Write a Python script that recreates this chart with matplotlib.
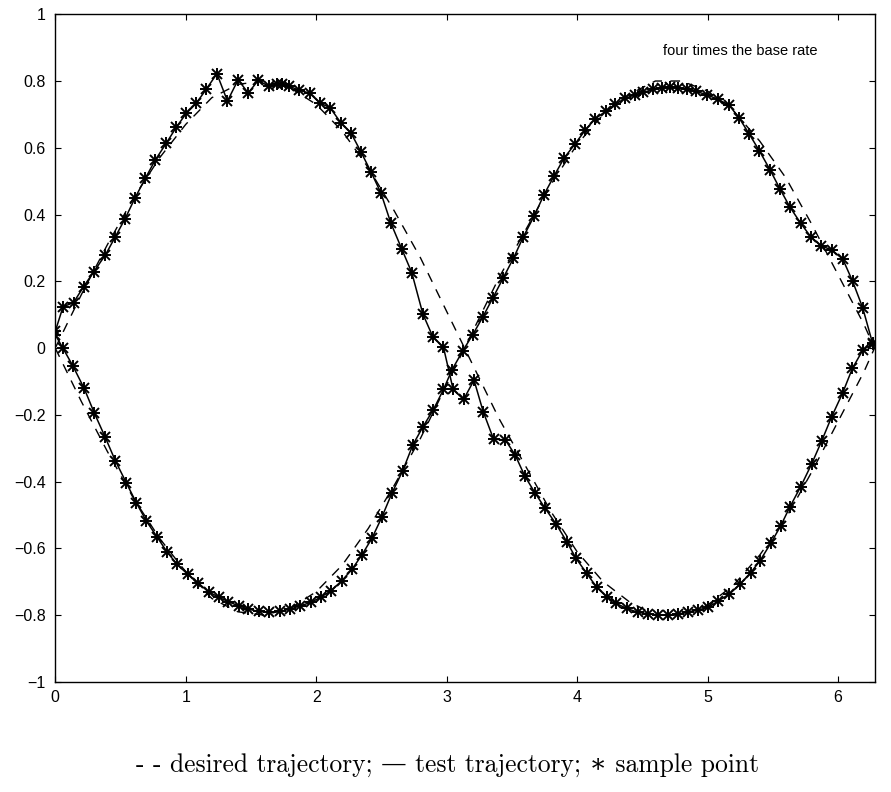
"""
    Trajectory tracking, four times the base rate
"""

import matplotlib
matplotlib.use('Agg')
import matplotlib.pyplot as plt

# desired trajectory (dashed)
x_des = [0.0, 0.2, 0.4, 0.6, 0.8, 1.0, 1.2, 1.4, 1.6, 1.8, 2.0, 2.2, 2.4, 2.6, 2.8, 3.0,
         3.2, 3.4, 3.6, 3.8, 4.0, 4.2, 4.4, 4.6, 4.8, 5.0, 5.2, 5.4, 5.6, 5.8, 6.0, 6.2, 6.28]
des_a = [0.0, 0.16, 0.31, 0.45, 0.57, 0.67, 0.75, 0.79, 0.80, 0.78, 0.73, 0.65, 0.54, 0.41, 0.27, 0.11,
         -0.05, -0.21, -0.35, -0.49, -0.61, -0.70, -0.76, -0.80, -0.80, -0.77, -0.71, -0.62, -0.51, -0.37, -0.22, -0.07, 0.0]
des_b = [0.0, -0.16, -0.31, -0.45, -0.57, -0.67, -0.75, -0.79, -0.80, -0.78, -0.73, -0.65, -0.54, -0.41, -0.27, -0.11,
         0.05, 0.21, 0.35, 0.49, 0.61, 0.70, 0.76, 0.80, 0.80, 0.77, 0.71, 0.62, 0.51, 0.37, 0.22, 0.07, 0.0]

# test trajectory A (goes up first), sample points
x_a = [0.0, 0.06, 0.14, 0.217, 0.294, 0.383, 0.46, 0.536, 0.613, 0.69, 0.766, 0.85, 0.927, 1.004,
       1.08, 1.157, 1.239, 1.32, 1.402, 1.479, 1.556, 1.637, 1.70, 1.737, 1.795, 1.872, 1.949, 2.03,
       2.107, 2.189, 2.266, 2.343, 2.42, 2.496, 2.572, 2.657, 2.733, 2.818, 2.894, 2.976,
       3.05, 3.13, 3.21, 3.28, 3.36, 3.45, 3.525, 3.60, 3.678, 3.755, 3.839, 3.921, 3.992, 4.074,
       4.151, 4.228, 4.30, 4.38, 4.47, 4.546, 4.62, 4.70, 4.776, 4.853, 4.93, 5.006, 5.083, 5.167,
       5.25, 5.33, 5.402, 5.484, 5.56, 5.632, 5.714, 5.798, 5.875, 5.951, 6.036, 6.11, 6.19, 6.266]
y_a = [0.05, 0.124, 0.136, 0.184, 0.228, 0.278, 0.333, 0.388, 0.451, 0.508, 0.563, 0.613, 0.661, 0.703,
       0.733, 0.775, 0.822, 0.74, 0.804, 0.764, 0.802, 0.784, 0.79, 0.79, 0.784, 0.772, 0.764, 0.734,
       0.72, 0.675, 0.645, 0.588, 0.528, 0.465, 0.375, 0.296, 0.226, 0.102, 0.034, 0.002,
       -0.124, -0.154, -0.096, -0.19, -0.273, -0.275, -0.32, -0.384, -0.434, -0.48, -0.527, -0.58, -0.63, -0.675,
       -0.717, -0.745, -0.765, -0.78, -0.792, -0.796, -0.80, -0.80, -0.796, -0.792, -0.784, -0.777, -0.757, -0.737,
       -0.707, -0.673, -0.637, -0.585, -0.533, -0.475, -0.415, -0.347, -0.278, -0.206, -0.134, -0.061, -0.006, 0.014]

# test trajectory B (goes down first), sample points
x_b = [0.0, 0.06, 0.136, 0.222, 0.299, 0.383, 0.46, 0.544, 0.621, 0.697, 0.779, 0.856, 0.932, 1.014,
       1.098, 1.175, 1.252, 1.328, 1.405, 1.481, 1.558, 1.642, 1.719, 1.801, 1.877, 1.959, 2.036, 2.113,
       2.197, 2.274, 2.35, 2.427, 2.503, 2.58, 2.664, 2.741, 2.818, 2.899, 2.976, 3.04, 3.124,
       3.2, 3.277, 3.354, 3.435, 3.512, 3.589, 3.67, 3.747, 3.824, 3.90, 3.985, 4.061, 4.138, 4.222,
       4.291, 4.368, 4.444, 4.508, 4.585, 4.649, 4.713, 4.776, 4.84, 4.912, 4.993, 5.082, 5.167, 5.243,
       5.32, 5.397, 5.479, 5.556, 5.632, 5.714, 5.79, 5.867, 5.951, 6.036, 6.112, 6.189, 6.266]
y_b = [0.04, -0.001, -0.054, -0.121, -0.194, -0.267, -0.337, -0.403, -0.463, -0.517, -0.565, -0.61, -0.647, -0.677,
       -0.705, -0.73, -0.746, -0.76, -0.772, -0.782, -0.789, -0.792, -0.789, -0.782, -0.772, -0.762, -0.746, -0.727,
       -0.697, -0.663, -0.62, -0.57, -0.507, -0.435, -0.367, -0.29, -0.236, -0.184, -0.124, -0.066, -0.008,
       0.04, 0.093, 0.15, 0.211, 0.269, 0.334, 0.395, 0.46, 0.516, 0.569, 0.612, 0.652, 0.687, 0.71,
       0.73, 0.748, 0.759, 0.766, 0.775, 0.78, 0.783, 0.78, 0.775, 0.769, 0.759, 0.745, 0.727, 0.689,
       0.641, 0.591, 0.534, 0.476, 0.422, 0.374, 0.334, 0.307, 0.294, 0.267, 0.2, 0.121, 0.013]

yticks = [-1, -0.8, -0.6, -0.4, -0.2, 0, 0.2, 0.4, 0.6, 0.8, 1]
ytick_labels = ['\u22121', '\u22120.8', '\u22120.6', '\u22120.4', '\u22120.2', '0', '0.2', '0.4', '0.6', '0.8', '1']
xticks = [0, 1, 2, 3, 4, 5, 6]

plt.rcParams['font.family'] = ['Liberation Sans', 'DejaVu Sans']

fig = plt.figure(figsize=(8.91, 7.92), dpi=100)
ax = fig.add_axes([0.062, 0.139, 0.920, 0.843])

ax.plot(x_des, des_a, color='black', lw=1.0, dashes=(7, 6))
ax.plot(x_des, des_b, color='black', lw=1.0, dashes=(7, 6))
for xs, ys in [(x_a, y_a), (x_b, y_b)]:
    ax.plot(xs, ys, color='black', lw=1.1)
    ax.plot(xs, ys, ls='none', marker='+', ms=8.5, mew=1.4, color='black')
    ax.plot(xs, ys, ls='none', marker='x', ms=6.5, mew=1.4, color='black')

ax.set_xlim(0, 6.2832)
ax.set_ylim(-1, 1)
ax.set_xticks(xticks)
ax.set_yticks(yticks)
ax.set_yticklabels(ytick_labels)
ax.tick_params(direction='in', length=4, width=0.8, top=True, right=True, labelsize=11.5)
ax.tick_params(axis='y', pad=7)
ax.tick_params(axis='x', pad=6)
for s in ax.spines.values():
    s.set_linewidth(1.0)

ax.text(5.25, 0.89, 'four times the base rate', fontsize=10.5, ha='center', va='center')

fig.text(0.502, 0.034, '- - desired trajectory; \u2014 test trajectory; \u2217 sample point',
         ha='center', va='center', fontsize=18.4, family=['cmr10', 'DejaVu Serif'])

fig.savefig('out.png', dpi=100)
